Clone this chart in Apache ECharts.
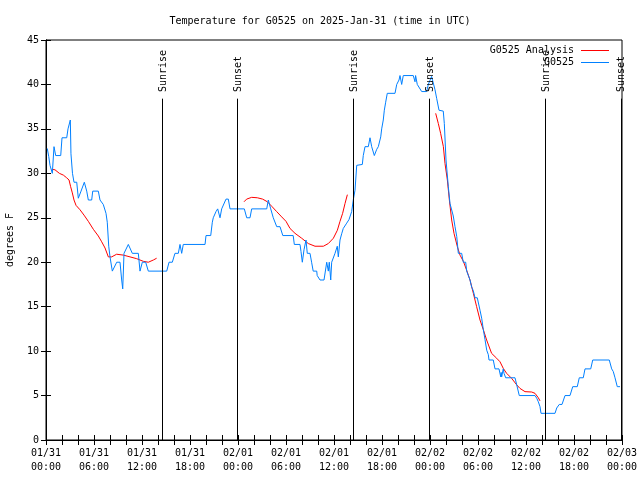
<!DOCTYPE html>
<html>
<head>
<meta charset="utf-8">
<script src="https://cdn.jsdelivr.net/npm/echarts@6/dist/echarts.min.js"></script>
<style>html,body{margin:0;padding:0;background:#fff}#c{width:640px;height:480px}</style>
</head>
<body>
<div id="c"></div>
<script>
// hours since 2025-01-31 00:00 UTC
const tickDates = ['01/31','01/31','01/31','01/31','02/01','02/01','02/01','02/01','02/02','02/02','02/02','02/02','02/03'];
const tickTimes = ['00:00','06:00','12:00','18:00','00:00','06:00','12:00','18:00','00:00','06:00','12:00','18:00','00:00'];

const sunHours = [14.54, 23.9, 38.41, 47.9, 62.42, 71.84];
const sunNames = ['Sunrise','Sunset','Sunrise','Sunset','Sunrise','Sunset'];

const obsData = [
[0.16,32.8],[0.34,31.9],[0.5,30.9],[0.79,30.0],[1.0,33.0],[1.21,32.0],[1.84,32.0],[2.0,34.0],[2.59,34.0],[2.75,35.0],[3.04,36.0],[3.12,32.2],[3.31,30.0],[3.5,29.0],[3.84,29.0],[4.04,27.2],[4.38,28.0],[4.56,28.0],[4.79,29.0],[5.09,28.0],[5.29,27.0],[5.71,27.0],[5.84,28.0],[6.54,28.0],[6.75,27.0],[7.16,26.5],[7.5,25.5],[7.66,24.5],[7.84,21.8],[8.0,20.6],[8.29,19.0],[8.54,19.0],[8.84,20.0],[9.25,20.0],[9.46,18.0],[9.59,17.0],[9.75,21.0],[10.29,22.0],[10.79,21.0],[11.54,21.0],[11.75,19.0],[12.04,20.0],[12.46,20.0],[12.79,19.0],[15.09,19.0],[15.38,20.0],[15.79,20.0],[16.12,21.0],[16.54,21.0],[16.75,22.0],[16.96,21.0],[17.16,22.0],[19.88,22.0],[20.0,23.0],[20.59,23.0],[20.79,24.5],[20.91,25.0],[21.25,25.7],[21.46,26.0],[21.75,25.0],[21.96,26.0],[22.16,26.0],[22.5,27.1],[22.79,27.1],[23.0,26.0],[24.79,26.0],[25.09,25.0],[25.5,25.0],[25.71,26.0],[27.59,26.0],[27.79,27.0],[28.09,26.0],[28.41,25.0],[28.63,25.0],[28.84,24.0],[29.25,24.0],[29.6,23.0],[30.9,23.0],[31.04,22.0],[31.75,22.0],[31.875,21.2],[32.04,20.0],[32.25,21.4],[32.5,22.5],[32.66,21.0],[33.0,21.0],[33.2,20.0],[33.4,19.0],[33.84,19.0],[33.9,18.5],[34.25,18.0],[34.75,18.0],[35.09,20.0],[35.29,19.0],[35.41,20.0],[35.59,18.0],[35.71,20.0],[35.91,20.0],[36.125,21.0],[36.41,21.8],[36.54,20.6],[36.75,22.5],[36.96,23.2],[37.16,23.8],[37.59,24.4],[37.875,24.8],[38.21,25.7],[38.41,27.0],[38.625,28.1],[38.84,30.9],[38.96,31.0],[39.54,31.0],[39.66,32.0],[39.875,33.0],[40.29,33.0],[40.5,34.0],[40.71,33.0],[41.04,32.0],[41.34,32.7],[41.54,33.0],[41.84,34.1],[41.96,35.0],[42.16,36.0],[42.29,37.1],[42.46,38.0],[42.66,39.0],[43.625,39.0],[43.84,40.0],[44.125,40.5],[44.25,41.0],[44.46,40.0],[44.66,41.0],[45.91,41.0],[46.125,40.3],[46.2,41.0],[46.41,40.0],[46.6,40.0],[46.96,39.2],[47.58,39.2],[47.79,40.0],[48.2,40.9],[48.625,39.4],[48.84,38.4],[49.125,37.1],[49.66,37.0],[49.79,35.6],[50.0,31.5],[50.29,28.5],[50.5,26.6],[50.91,25.2],[51.125,24.0],[51.34,22.9],[51.54,21.0],[51.96,21.0],[52.16,20.0],[52.46,20.0],[52.59,19.0],[53.0,18.0],[53.21,17.2],[53.41,16.8],[53.625,16.0],[53.91,16.0],[54.25,14.6],[54.46,13.7],[54.66,12.45],[54.875,11.3],[55.09,10.1],[55.29,9.6],[55.375,9.0],[55.91,9.0],[56.125,8.0],[56.625,8.0],[56.84,7.1],[56.9,7.6],[56.96,7.1],[57.16,8.0],[57.25,7.5],[57.46,7.0],[58.625,7.0],[58.84,6.2],[59.16,5.0],[61.125,5.0],[61.34,4.7],[61.54,4.3],[61.75,3.75],[61.875,3.0],[63.625,3.0],[63.84,3.6],[64.16,4.0],[64.5,4.0],[64.875,5.0],[65.5,5.0],[65.84,6.0],[66.41,6.0],[66.66,7.0],[67.16,7.0],[67.375,8.0],[68.09,8.0],[68.34,9.0],[70.41,9.0],[70.71,8.0],[70.91,7.7],[71.125,7.0],[71.41,6.0],[71.75,6.0]
];

const anaSeg1 = [[0.71,30.45],[1.12,30.4],[1.67,30.0],[2.17,29.8],[2.58,29.5],[2.88,29.25],[3.08,28.5],[3.29,27.8],[3.5,27.0],[3.75,26.4],[4.25,25.9],[4.75,25.3],[5.29,24.6],[5.92,23.7],[6.54,22.95],[6.96,22.3],[7.38,21.6],[7.79,20.6],[8.21,20.6],[8.83,20.9],[9.67,20.8],[10.5,20.6],[11.33,20.4],[12.17,20.1],[12.79,20.0],[13.42,20.25],[13.83,20.45]];
const anaSeg2 = [[24.75,26.8],[25.08,27.1],[25.71,27.3],[26.42,27.25],[27.08,27.1],[27.67,26.8],[28.21,26.3],[28.83,25.7],[29.46,25.1],[30.0,24.6],[30.5,23.8],[31.125,23.25],[31.96,22.7],[32.79,22.1],[33.625,21.8],[34.67,21.8],[35.29,22.1],[35.92,22.7],[36.42,23.6],[36.75,24.6],[37.08,25.5],[37.375,26.6],[37.67,27.6]];
const anaSeg3 = [[48.71,36.75],[49.04,35.6],[49.33,34.5],[49.67,33.0],[49.875,31.1],[50.17,29.25],[50.42,27.0],[50.71,24.75],[51.0,23.25],[51.42,21.75],[51.75,20.8],[52.17,20.1],[52.58,19.1],[53.0,18.0],[53.42,16.5],[53.83,15.0],[54.25,13.5],[54.67,12.4],[55.08,11.25],[55.7,9.75],[56.33,9.2],[56.75,8.8],[57.16,8.06],[57.58,7.5],[58.2,6.94],[58.84,6.2],[59.25,5.8],[59.875,5.44],[60.71,5.4],[61.125,5.25],[61.54,4.75],[61.75,4.4]];

const FONT = 'DejaVu Sans Mono';
const FS = 10;
const sunLineTop = 38.4;
const sunLabelY = 39.15;

const anaData = anaSeg1.concat([null], anaSeg2, [null], anaSeg3);

const chart = echarts.init(document.getElementById('c'), null, {renderer: 'canvas'});

const tickCommon = {show: true, inside: true, length: 5, lineStyle: {color: '#000', width: 1}};
const minorCommon = {show: true, splitNumber: 3, length: 5, lineStyle: {color: '#000', width: 1}};

chart.setOption({
  animation: false,
  backgroundColor: '#fff',
  title: {
    text: 'Temperature for G0525 on 2025-Jan-31 (time in UTC)',
    left: 'center', top: 11,
    textStyle: {fontFamily: FONT, fontSize: FS, fontWeight: 'normal', color: '#000'}
  },
  grid: {left: 46, right: 18, top: 40, bottom: 40, outerBoundsMode: 'none', containLabel: false,
         show: true, borderColor: '#000', borderWidth: 1, backgroundColor: 'transparent'},
  xAxis: [{
    type: 'value', min: 0, max: 72, interval: 6, position: 'bottom',
    axisLine: {show: true, lineStyle: {color: '#000', width: 1}},
    axisTick: tickCommon,
    minorTick: minorCommon,
    splitLine: {show: false},
    axisLabel: {
      margin: 6, color: '#000', fontFamily: FONT, fontSize: FS, lineHeight: 14,
      formatter: function (v) { const i = Math.round(v / 6); return tickDates[i] + '\n' + tickTimes[i]; }
    }
  }, {
    type: 'value', min: 0, max: 72, interval: 6, position: 'top',
    axisLine: {show: true, lineStyle: {color: '#000', width: 1}},
    axisTick: tickCommon, minorTick: minorCommon,
    splitLine: {show: false}, axisLabel: {show: false}
  }],
  yAxis: [{
    type: 'value', min: 0, max: 45, interval: 5, position: 'left',
    name: 'degrees F', nameLocation: 'middle', nameRotate: 90, nameGap: 31,
    nameTextStyle: {fontFamily: FONT, fontSize: FS, color: '#000'},
    axisLine: {show: true, lineStyle: {color: '#000', width: 1}},
    axisTick: tickCommon,
    splitLine: {show: false},
    axisLabel: {margin: 7, color: '#000', fontFamily: FONT, fontSize: FS}
  }, {
    type: 'value', min: 0, max: 45, interval: 5, position: 'right',
    axisLine: {show: true, lineStyle: {color: '#000', width: 1}},
    axisTick: tickCommon, splitLine: {show: false}, axisLabel: {show: false}
  }],
  graphic: [
    {type: 'text', x: 574, y: 50, style: {text: 'G0525 Analysis', fontFamily: FONT, fontSize: FS, fill: '#000', align: 'right', verticalAlign: 'middle'}},
    {type: 'line', shape: {x1: 581, y1: 50.5, x2: 609, y2: 50.5}, style: {stroke: '#ff0000', lineWidth: 1}},
    {type: 'text', x: 574, y: 62, style: {text: 'G0525', fontFamily: FONT, fontSize: FS, fill: '#000', align: 'right', verticalAlign: 'middle'}},
    {type: 'line', shape: {x1: 581, y1: 62.5, x2: 609, y2: 62.5}, style: {stroke: '#0080ff', lineWidth: 1}}
  ],
  series: [
    {
      name: 'G0525', type: 'line', data: obsData, showSymbol: false, symbol: 'none',
      lineStyle: {color: '#0080ff', width: 1}, itemStyle: {color: '#0080ff'}, z: 3
    },
    {
      name: 'G0525 Analysis', type: 'line', data: anaData, showSymbol: false, symbol: 'none', connectNulls: false,
      lineStyle: {color: '#ff0000', width: 1}, itemStyle: {color: '#ff0000'}, z: 2
    },
    {
      name: 'sun', type: 'custom', clip: false, z: 4,
      data: sunHours.map(h => [h, 0]),
      encode: {x: 0, y: 1},
      renderItem: function (params, api) {
        const h = api.value(0);
        const p0 = api.coord([h, 0]);
        const p1 = api.coord([h, sunLineTop]);
        const pt = api.coord([h, sunLabelY]);
        const x = Math.round(p0[0]) + 0.5;
        return {
          type: 'group',
          children: [
            {type: 'line', shape: {x1: x, y1: p0[1], x2: x, y2: p1[1]}, style: {stroke: '#000', lineWidth: 1}},
            {type: 'text', x: pt[0] + 1, y: pt[1], rotation: Math.PI / 2,
             style: {text: sunNames[params.dataIndex], fontFamily: FONT, fontSize: FS, fill: '#000', align: 'left', verticalAlign: 'middle'}}
          ]
        };
      }
    }
  ]
});
</script>
</body>
</html>
